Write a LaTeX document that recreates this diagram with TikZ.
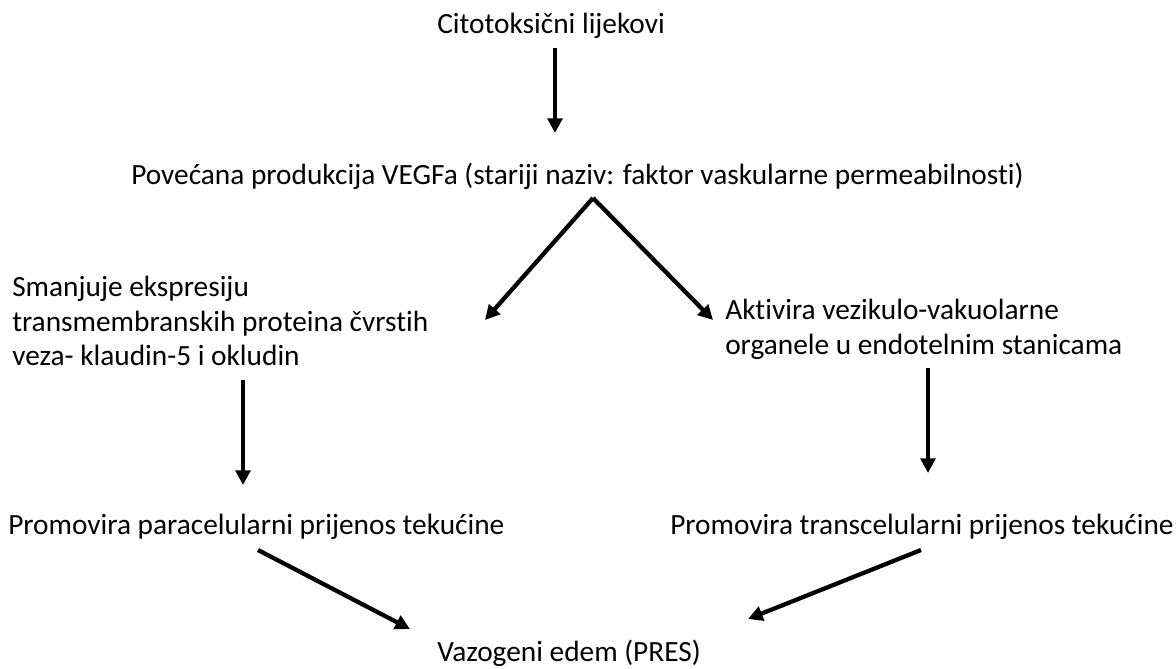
\documentclass[tikz,border=0pt]{standalone}
\usepackage{fontspec}
\setmainfont{Carlito}[RawFeature=-liga]
\usetikzlibrary{arrows.meta}

\begin{document}
\begin{tikzpicture}[
        x=0.75pt, y=-0.75pt,
        txt/.style={inner sep=0pt, font=\fontsize{22}{26}\selectfont},
        blk/.style={txt, align=left, anchor=north west},
        arr/.style={line width=3.2pt, -{Triangle[width=11pt,length=11pt]}}
        ]
    % Fix the canvas
    \useasboundingbox (0,0) rectangle (1176,668);

    % Define text nodes
    \node[txt, anchor=base west] (lijek) at (437, 33) {Citotoksični lijekovi};
    \node[txt, anchor=base west] (vegf) at (131, 184) {Povećana produkcija VEGFa (stariji naziv: faktor vaskularne permeabilnosti)};
    \node[blk] (smanj) at (12, 276) {Smanjuje ekspresiju\\transmembranskih proteina čvrstih\\veza- klaudin-5 i okludin};
    \node[blk] (aktiv) at (725, 299) {Aktivira vezikulo-vakuolarne\\organele u endotelnim stanicama};
    \node[txt, anchor=base west] (para) at (8, 534) {Promovira paracelularni prijenos tekućine};
    \node[txt, anchor=base west] (trans) at (670, 534) {Promovira transcelularni prijenos tekućine};
    \node[txt, anchor=base west] (edem) at (437, 661) {Vazogeni edem (PRES)};

    % Define arrow end points
    \coordinate (a1s) at (555, 48);
    \coordinate (a1e) at (555, 133);
    \coordinate (apex) at (593, 198);
    \coordinate (vl) at (485, 320);
    \coordinate (vr) at (713, 320);
    \coordinate (a2s) at (243, 380);
    \coordinate (a2e) at (243, 485);
    \coordinate (a3s) at (928, 368);
    \coordinate (a3e) at (928, 473);
    \coordinate (a4s) at (258, 550);
    \coordinate (a4e) at (410, 629);
    \coordinate (a5s) at (921, 550);
    \coordinate (a5e) at (748, 619);

    % Draw the arrows
    \draw[arr] (a1s) -- (a1e);
    \draw[arr] (apex) -- (vl);
    \draw[arr] (apex) -- (vr);
    \draw[arr] (a2s) -- (a2e);
    \draw[arr] (a3s) -- (a3e);
    \draw[arr] (a4s) -- (a4e);
    \draw[arr] (a5s) -- (a5e);

\end{tikzpicture}
\end{document}
